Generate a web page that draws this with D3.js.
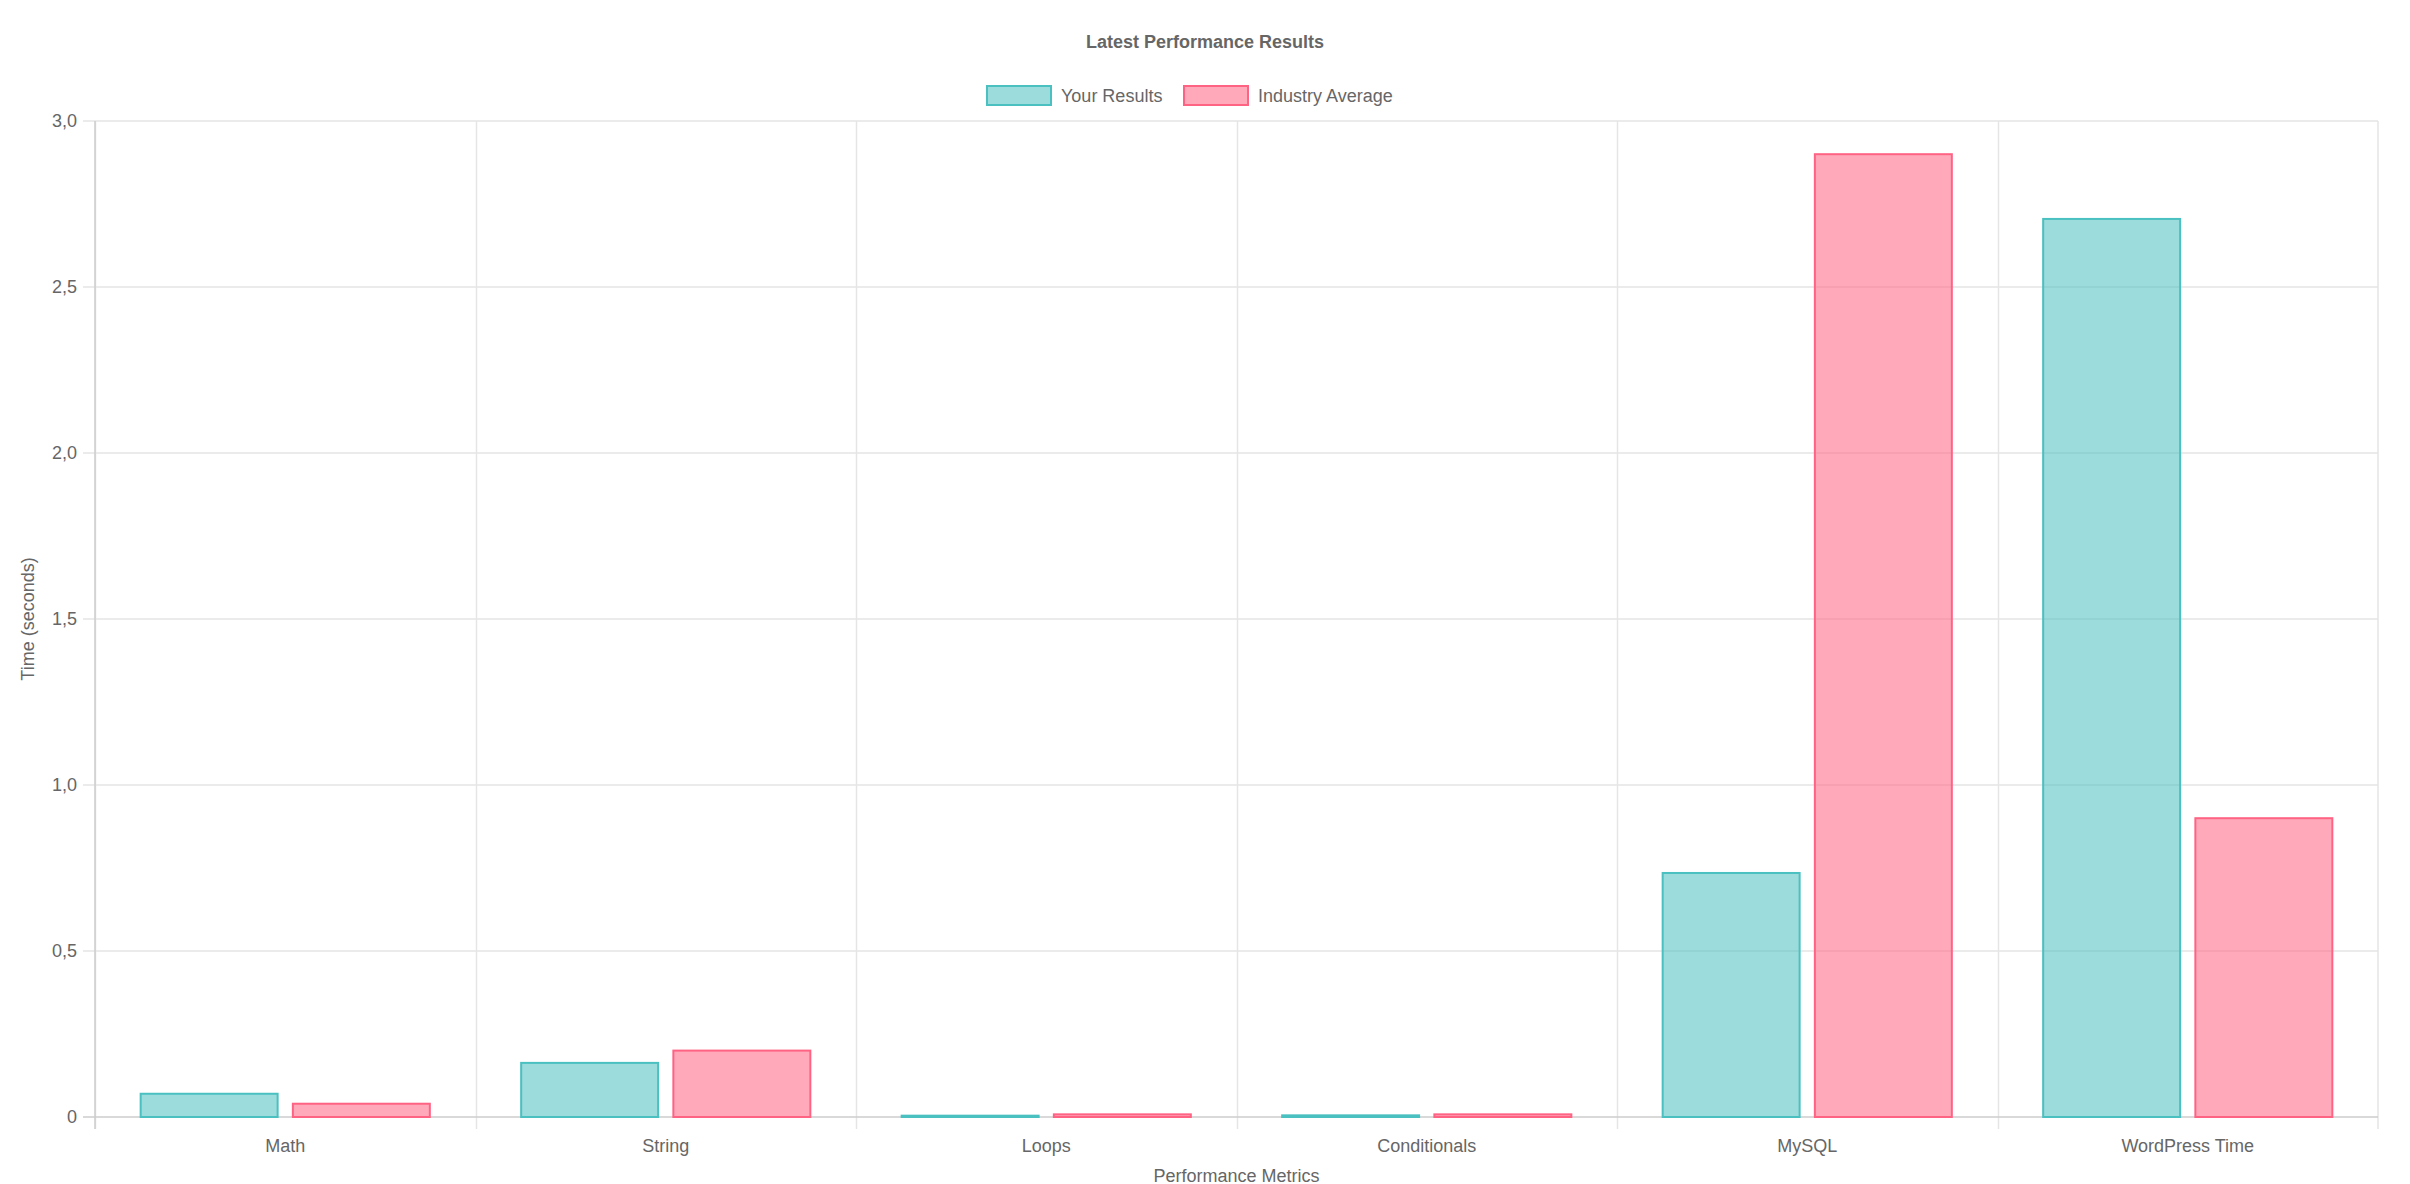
<!DOCTYPE html><html><head><meta charset="utf-8"><script src="https://cdn.jsdelivr.net/npm/d3@7"></script>
<style>body{margin:0;background:#fff}text{font-family:"Helvetica Neue",Helvetica,Arial,"Liberation Sans",sans-serif}</style></head><body><svg id="c" width="2410" height="1184"></svg><script>
const categories=["Math","String","Loops","Conditionals","MySQL","WordPress Time"];
const seriesNames=["Your Results","Industry Average"];
const yourResults=[0.07,0.163,0.004,0.005,0.735,2.705];
const industryAvg=[0.04,0.2,0.008,0.008,2.9,0.9];
const yTicks=[0,0.5,1,1.5,2,2.5,3];
const fills=["rgba(75,192,192,0.55)","rgba(255,99,132,0.55)"];
const strokes=["rgb(75,192,192)","rgb(255,99,132)"];
const svg=d3.select("#c");
const L=95,R=2378,T=121,B=1117;
const x=d3.scaleBand().domain(categories).range([L,R]);
const y=d3.scaleLinear().domain([0,3]).range([B,T]);
const fmt=v=>v===0?"0":v.toFixed(1).replace(".",",");
const g=svg.append("g");
categories.forEach((c,i)=>{const xx=Math.round(x(c))+0.5;g.append("line").attr("x1",xx).attr("x2",xx).attr("y1",T).attr("y2",B+12).attr("stroke","#e5e5e5").attr("stroke-width",1.5);});
g.append("line").attr("x1",R).attr("x2",R).attr("y1",T).attr("y2",B+12).attr("stroke","#e5e5e5").attr("stroke-width",1.5);
yTicks.forEach(t=>{g.append("line").attr("x1",L-12).attr("x2",R).attr("y1",y(t)).attr("y2",y(t)).attr("stroke",t===0?"#ccc":"#e5e5e5").attr("stroke-width",1.5);
g.append("text").attr("x",L-18).attr("y",y(t)).attr("dy","0.35em").attr("text-anchor","end").attr("font-size",18).attr("fill","#666").text(fmt(t));});
g.append("line").attr("x1",L).attr("x2",L).attr("y1",T).attr("y2",B+12).attr("stroke","#ccc").attr("stroke-width",1.5);
const bw=x.bandwidth(),grp=bw*0.8,one=grp/2,bar=one*0.9;
const data=[yourResults,industryAvg];
data.forEach((arr,s)=>{g.selectAll(null).data(arr).enter().append("rect")
.attr("x",(d,i)=>x(categories[i])+bw*0.1+s*one+(one-bar)/2).attr("width",bar)
.attr("y",d=>y(d)).attr("height",d=>B-y(d)).attr("fill",fills[s]).attr("stroke",strokes[s]).attr("stroke-width",2);});
categories.forEach(c=>g.append("text").attr("x",x(c)+bw/2).attr("y",1146).attr("dy","0.35em").attr("text-anchor","middle").attr("font-size",18).attr("fill","#666").text(c));
svg.append("text").attr("x",(L+R)/2).attr("y",1182).attr("text-anchor","middle").attr("font-size",18).attr("fill","#666").text("Performance Metrics");
svg.append("text").attr("transform",`translate(34,${(T+B)/2}) rotate(-90)`).attr("text-anchor","middle").attr("font-size",18).attr("fill","#666").text("Time (seconds)");
svg.append("text").attr("x",1205).attr("y",42).attr("dy","0.35em").attr("text-anchor","middle").attr("font-size",18).attr("font-weight","bold").attr("fill","#666").text("Latest Performance Results");
const lx=[987,1184];
seriesNames.forEach((n,s)=>{svg.append("rect").attr("x",lx[s]).attr("y",86).attr("width",64).attr("height",19).attr("fill",fills[s]).attr("stroke",strokes[s]).attr("stroke-width",2);
svg.append("text").attr("x",lx[s]+74).attr("y",96).attr("dy","0.35em").attr("font-size",18).attr("fill","#666").text(n);});
</script></body></html>
